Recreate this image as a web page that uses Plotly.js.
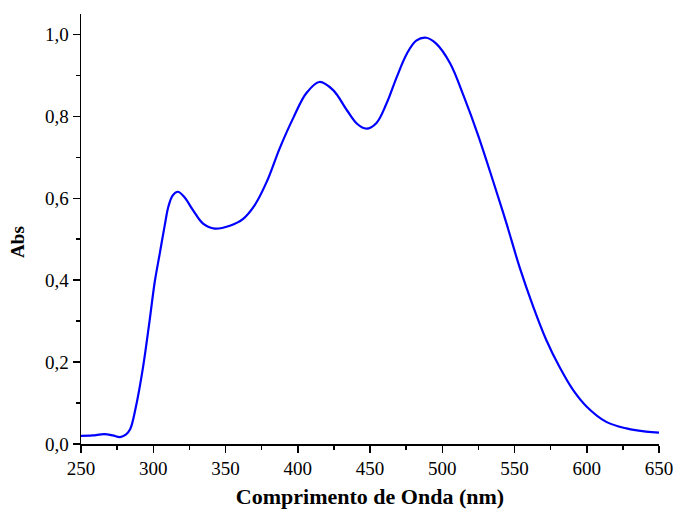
<!DOCTYPE html>
<html>
<head>
<meta charset="utf-8">
<script src="https://cdn.plot.ly/plotly-3.0.1.min.js"></script>
<style>html,body{margin:0;padding:0;background:#fff;}#chart{width:676px;height:514px;}</style>
</head>
<body>
<div id="chart"></div>
<script>
// Wavelength (nm)
const wavelength = [250, 258, 266, 272, 277, 281, 284, 288, 293, 297.5, 301, 304.5, 308, 310.5, 313.5, 317, 321.5, 327.5, 334.5, 342.5, 353, 362, 370, 378.5, 387.5, 397, 406, 415, 424.5, 434, 441, 447.5, 454.5, 461.5, 468.5, 475.5, 482, 489, 496, 505.5, 515, 525, 535, 544.5, 553.5, 563, 572, 581, 590.5, 600, 613.5, 627.5, 641, 650];
// Absorbance
const absorbance = [0.020, 0.021, 0.024, 0.021, 0.017, 0.023, 0.036, 0.091, 0.189, 0.302, 0.395, 0.465, 0.535, 0.580, 0.607, 0.616, 0.603, 0.571, 0.538, 0.526, 0.533, 0.549, 0.582, 0.640, 0.722, 0.797, 0.857, 0.884, 0.864, 0.815, 0.782, 0.770, 0.784, 0.832, 0.896, 0.953, 0.985, 0.992, 0.977, 0.929, 0.848, 0.752, 0.644, 0.538, 0.432, 0.335, 0.254, 0.189, 0.132, 0.091, 0.054, 0.038, 0.030, 0.028];
const xTicks = [250, 300, 350, 400, 450, 500, 550, 600, 650];
const yTicks = [0.0, 0.2, 0.4, 0.6, 0.8, 1.0];
const xTitle = "Comprimento de Onda (nm)";
const yTitle = "Abs";

const font = "Liberation Serif, Times New Roman, serif";
const trace = {
  x: wavelength, y: absorbance, type: "scatter", mode: "lines",
  line: {color: "#0000FF", width: 2.2, shape: "spline", smoothing: 1},
  hoverinfo: "skip"
};
const layout = {
  width: 676, height: 514,
  margin: {l: 81, r: 17, t: 14, b: 70},
  paper_bgcolor: "#fff", plot_bgcolor: "#fff",
  separators: ",.",
  showlegend: false,
  font: {family: font, color: "#000", size: 19},
  xaxis: {
    range: [250, 650], tickvals: xTicks, ticktext: xTicks.map(String),
    showgrid: false, zeroline: false, showline: true, linecolor: "#000", linewidth: 1.5,
    ticks: "outside", ticklen: 7, tickwidth: 1.5, tickcolor: "#000",
    minor: {dtick: 25, tick0: 250, ticks: "outside", ticklen: 4, tickwidth: 1.5, tickcolor: "#000", showgrid: false},
    tickfont: {family: font, size: 19, color: "#000"},
    title: {text: "<b>" + xTitle + "</b>", font: {family: font, size: 22, color: "#000"}, standoff: 10},
    fixedrange: true
  },
  yaxis: {
    range: [0, 1.05], tickvals: yTicks, tickformat: ".1f",
    showgrid: false, zeroline: false, showline: true, linecolor: "#000", linewidth: 1.5,
    ticks: "outside", ticklen: 7, tickwidth: 1.5, tickcolor: "#000",
    minor: {dtick: 0.1, tick0: 0, ticks: "outside", ticklen: 4, tickwidth: 1.5, tickcolor: "#000", showgrid: false},
    tickfont: {family: font, size: 19, color: "#000"},
    fixedrange: true
  },
  annotations: [{
    text: "<b>" + yTitle + "</b>", textangle: -90, showarrow: false,
    xref: "paper", yref: "paper", x: 0, y: 0.47, xanchor: "center", yanchor: "middle",
    xshift: -63, font: {family: font, size: 19, color: "#000"}
  }]
};
Plotly.newPlot("chart", [trace], layout, {displayModeBar: false, staticPlot: true});
</script>
</body>
</html>
